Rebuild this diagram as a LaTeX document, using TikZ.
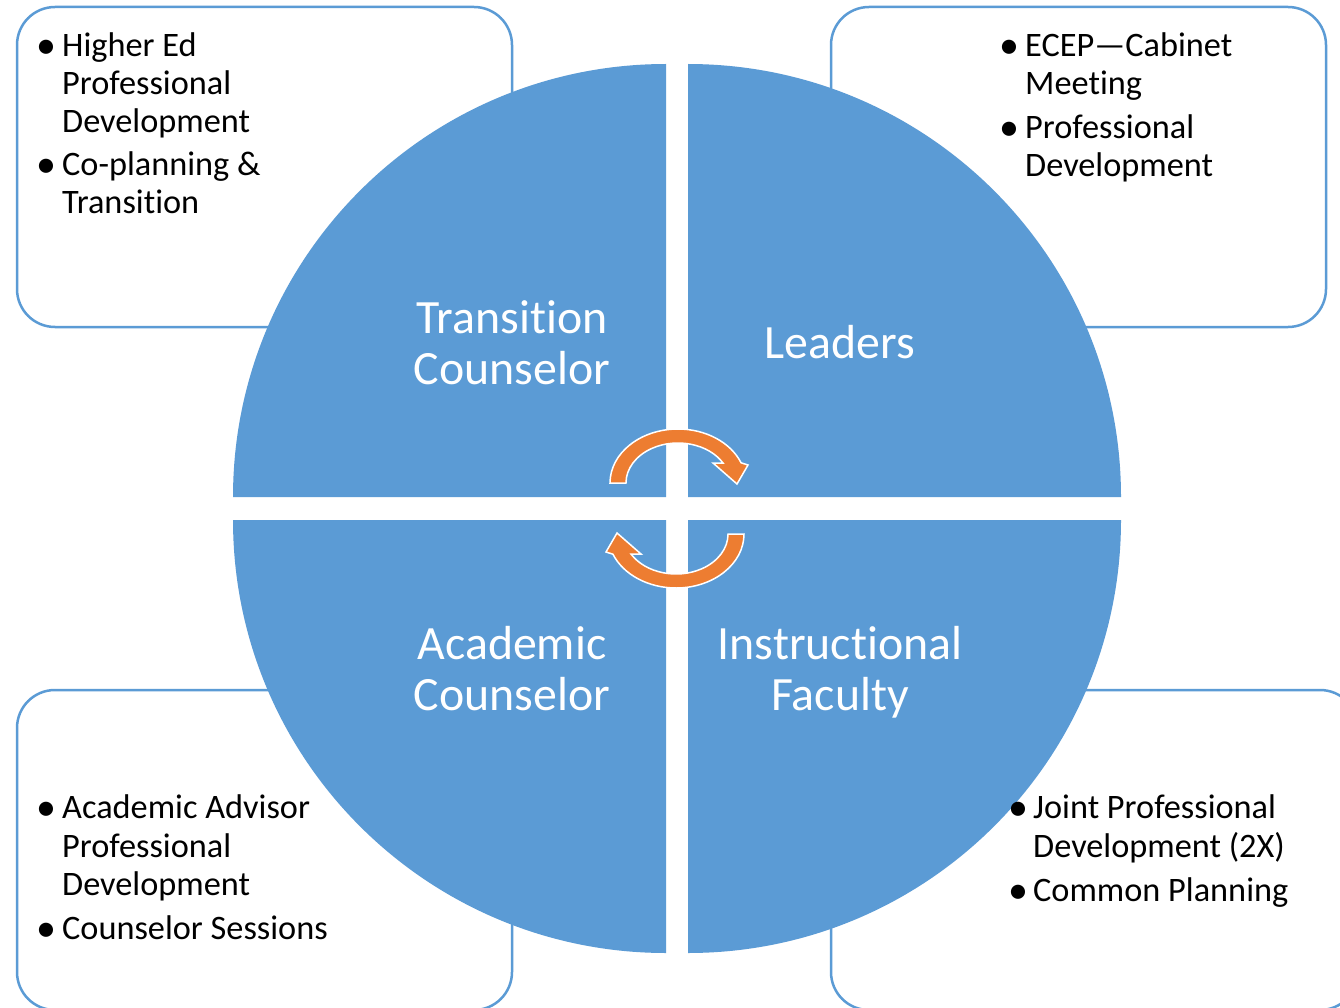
\documentclass[tikz,border=0pt]{standalone}
\usepackage{fontspec}
\setmainfont{Carlito}[Ligatures=NoCommon]
\definecolor{qblue}{HTML}{5B9BD5}
\definecolor{qorange}{HTML}{ED7D31}
\tikzset{
  boxst/.style={draw=qblue, line width=2.5pt, fill=white, rounded corners=38pt},
  quad/.style={fill=qblue},
  arrowst/.style={fill=qorange, draw=white, line width=1.5pt, line join=miter},
  itemtext/.style={anchor=base west, inner sep=0pt, font=\fontsize{34.3}{38}\selectfont},
  bul/.style={anchor=base, inner sep=0pt, font=\fontsize{40}{40}\selectfont},
  bigtext/.style={anchor=base, inner sep=0pt, text=white, font=\fontsize{47.8}{51}\selectfont}
}
\begin{document}
\begin{tikzpicture}[x=1pt,y=-1pt]
\useasboundingbox (0,0) rectangle (1340,1008);
\fill[white] (0,0) rectangle (1340,1008);
% corner boxes
\draw[boxst] (17,7) rectangle (512,327);
\draw[boxst] (831,7) rectangle (1326,327);
\draw[boxst] (17,690) rectangle (512,1010);
\draw[boxst] (831,690) rectangle (1358,1010);
% quadrants
\fill[quad] (666,497) -- ++(-433,0) arc[start angle=180,end angle=270,radius=433] -- cycle;
\fill[quad] (688,497) -- ++(0,-433) arc[start angle=270,end angle=360,radius=433] -- cycle;
\fill[quad] (688,520) -- ++(433,0) arc[start angle=0,end angle=90,radius=433] -- cycle;
\fill[quad] (666,520) -- ++(0,433) arc[start angle=90,end angle=180,radius=433] -- cycle;
% circular arrows
\filldraw[arrowst] (610,483) arc[start angle=180,end angle=338,x radius=68,y radius=54]
  -- (748,465) -- (737,484) -- (713,463) -- (723,463)
  arc[start angle=330,end angle=180,x radius=52,y radius=40] -- cycle;
\begin{scope}[rotate around={180:(677,508.5)}]
\filldraw[arrowst] (610,483) arc[start angle=180,end angle=338,x radius=68,y radius=54]
  -- (748,465) -- (737,484) -- (713,463) -- (723,463)
  arc[start angle=330,end angle=180,x radius=52,y radius=40] -- cycle;
\end{scope}
% quadrant labels
\node[bigtext] (tc1) at (512,333) {Transition};
\node[bigtext] (tc2) at (512,384) {Counselor};
\node[bigtext] (ld) at (840,358) {Leaders};
\node[bigtext] (ac1) at (512,659) {Academic};
\node[bigtext] (ac2) at (512,710) {Counselor};
\node[bigtext] (if1) at (840,659) {Instructional};
\node[bigtext] (if2) at (840,710) {Faculty};
% top-left box
\node[bul] (b1) at (46,58.5) {•};
\node[itemtext] (t1a) at (62,56.5) {Higher Ed};
\node[itemtext] (t1b) at (62,94.5) {Professional};
\node[itemtext] (t1c) at (62,132.5) {Development};
\node[bul] (b2) at (46,177.5) {•};
\node[itemtext] (t2a) at (62,175.5) {Co-planning \&};
\node[itemtext] (t2b) at (62,213.5) {Transition};
% top-right box
\node[bul] (b3) at (1009,58.5) {•};
\node[itemtext] (t3a) at (1025,56.5) {ECEP—Cabinet};
\node[itemtext] (t3b) at (1025,94.5) {Meeting};
\node[bul] (b4) at (1009,140.5) {•};
\node[itemtext] (t4a) at (1025,138.5) {Professional};
\node[itemtext] (t4b) at (1025,176.5) {Development};
% bottom-left box
\node[bul] (b5) at (46,820.5) {•};
\node[itemtext] (t5a) at (62,818.5) {Academic Advisor};
\node[itemtext] (t5b) at (62,857.5) {Professional};
\node[itemtext] (t5c) at (62,895.5) {Development};
\node[bul] (b6) at (46,941.5) {•};
\node[itemtext] (t6a) at (62,939.5) {Counselor Sessions};
% bottom-right box
\node[bul] (b7) at (1018,820.5) {•};
\node[itemtext] (t7a) at (1033,818.5) {Joint Professional};
\node[itemtext] (t7b) at (1033,857.5) {Development (2X)};
\node[bul] (b8) at (1018,903.5) {•};
\node[itemtext] (t8a) at (1033,901.5) {Common Planning};
\end{tikzpicture}
\end{document}
